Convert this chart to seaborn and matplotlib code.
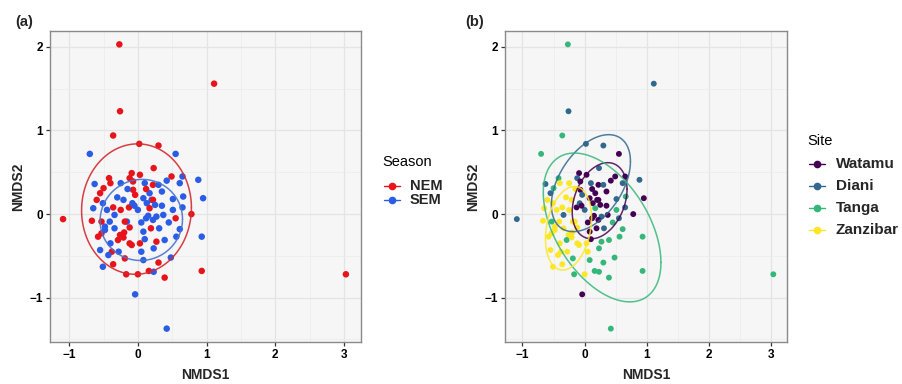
import numpy as np
import pandas as pd
import matplotlib
matplotlib.use("Agg")
import matplotlib.pyplot as plt
from matplotlib.lines import Line2D
import seaborn as sns

# ---------------- data ----------------
nmds1 = [-0.27, 1.11, -0.26, -0.36, 0.02, 0.30, -0.70, 0.55, 0.23, 0.49,
         0.65, 0.88, -0.63, -0.42, -0.40, -0.09, 0.03, -0.12, -0.07, -0.25,
         -0.50, -0.55, -0.60, -0.51, -0.65, -0.21, -0.36, -0.13, -0.08, -0.34,
         -1.09, -0.67, -0.12, -0.41, -0.48, -0.53, -0.16, 0.10, 0.22, 0.61,
         -0.07, -0.04, 0.17, 0.20, 0.08, 0.13, 0.35, 0.22, 0.51, 0.66,
         0.95, 0.00, 0.25, 0.17, 0.51, 0.65, 0.37, 0.27, 0.22, 0.78,
         0.61, 0.19, 0.08, 0.31, -0.20, 0.93, 0.03, 0.27, 0.10, 0.39,
         0.23, 0.56, -0.09, 0.08, 0.48, 0.30, 0.00, 0.16, 0.23, 0.39,
         0.93, -0.04, 0.42, 3.03, -0.53, -0.58, -0.48, -0.34, -0.26, -0.29,
         -0.21, -0.12, -0.55, -0.38, -0.43, -0.51, -0.36, -0.17, -0.19, -0.19,
         -0.28, 0.05, 0.15, 0.35, 0.42, -0.30, -0.45, 0.05, -0.05, 0.12,
         -0.25, 0.45, -0.40, 0.30, -0.15, 0.12, 0.55]
nmds2 = [2.03, 1.56, 1.23, 0.94, 0.84, 0.82, 0.72, 0.72, 0.55, 0.45,
         0.45, 0.41, 0.36, 0.43, 0.37, 0.49, 0.47, 0.43, 0.39, 0.37,
         0.31, 0.25, 0.17, 0.13, 0.07, 0.17, 0.08, 0.08, 0.13, -0.01,
         -0.06, -0.08, -0.16, -0.09, -0.15, -0.09, -0.09, 0.37, 0.35, 0.37,
         0.29, 0.23, 0.25, 0.17, 0.19, 0.13, 0.27, 0.17, 0.18, 0.21,
         0.19, 0.05, 0.11, 0.07, 0.05, 0.08, -0.01, -0.03, -0.07, 0.00,
         -0.18, -0.17, -0.21, -0.17, -0.22, -0.27, -0.35, -0.33, -0.30, -0.31,
         -0.41, -0.27, -0.37, -0.55, -0.52, -0.58, -0.72, -0.68, -0.69, -0.76,
         -0.68, -0.96, -1.37, -0.72, -0.23, -0.27, -0.19, -0.17, -0.25, -0.31,
         -0.28, -0.35, -0.43, -0.45, -0.49, -0.63, -0.60, -0.72, -0.53, -0.09,
         -0.45, -0.10, -0.02, 0.10, 0.40, 0.20, 0.05, -0.45, 0.10, 0.30,
         0.05, -0.10, -0.35, 0.35, 0.30, -0.05, -0.05]
season = list("NNNNNNSSNNSSSNNNNNNSNNNSSSNNSSNNNSSNSSNSNNSSSSSNSSSSSNSSSSSNSNSSNSNNSSSSNSSNNNSNNSSNNNSSNNNNSNSSNNNNSSSSSSSSSNNSSSSSNN")
site_code = ["T", "D", "D", "T", "D", "D", "T", "W", "D", "W",
             "W", "D", "D", "T", "Z", "W", "W", "D", "W", "Z",
             "T", "D", "Z", "Z", "Z", "Z", "Z", "W", "D", "D",
             "D", "Z", "Z", "Z", "Z", "T", "Z", "D", "W", "D",
             "W", "D", "W", "W", "W", "W", "W", "W", "D", "T",
             "W", "D", "W", "T", "T", "D", "W", "D", "W", "W",
             "T", "W", "W", "D", "Z", "T", "Z", "T", "W", "T",
             "T", "T", "Z", "T", "T", "T", "Z", "T", "T", "T",
             "T", "W", "T", "T", "Z", "Z", "Z", "Z", "Z", "T",
             "Z", "Z", "Z", "Z", "Z", "Z", "Z", "T", "T", "Z",
             "Z", "W", "W", "W", "W", "Z", "Z", "Z", "W", "W",
             "Z", "T", "Z", "D", "Z", "W", "D"]

season_levels = ["NEM", "SEM"]
site_levels = ["Watamu", "Diani", "Tanga", "Zanzibar"]
site_names = {"W": "Watamu", "D": "Diani", "T": "Tanga", "Z": "Zanzibar"}
x_ticks = [-1, 0, 1, 2, 3]
y_ticks = [-1, 0, 1, 2]

# 95% ellipses: centre, half-extents, correlation
ell_group = ["NEM", "SEM", "Watamu", "Diani", "Tanga", "Zanzibar"]
ell_cx = [-0.02, 0.05, 0.24, 0.10, 0.28, -0.26]
ell_cy = [0.06, -0.07, 0.16, 0.37, -0.16, -0.17]
ell_hx = [0.80, 0.60, 0.44, 0.635, 0.945, 0.37]
ell_hy = [0.78, 0.485, 0.455, 0.58, 0.89, 0.50]
ell_r = [0.02, 0.02, 0.30, 0.45, -0.47, 0.25]

n = min(len(nmds1), len(nmds2), len(season), len(site_code))
df = pd.DataFrame({
    "NMDS1": nmds1[:n],
    "NMDS2": nmds2[:n],
    "Season": [s + "EM" for s in season[:n]],
    "Site": [site_names[c] for c in site_code[:n]],
})

season_pal = {"NEM": "#E8141B", "SEM": "#2A5CE6"}
site_pal = dict(zip(site_levels, ["#440154", "#31688E", "#35B779", "#FDE725"]))
ell_pal = {"NEM": "#D42A30", "SEM": "#4A73D0", **site_pal}


def ellipse_xy(g, segments=120):
    i = ell_group.index(g)
    hx, hy, r = ell_hx[i], ell_hy[i], ell_r[i]
    M = np.array([[hx * hx, r * hx * hy], [r * hx * hy, hy * hy]])
    L = np.linalg.cholesky(M)
    ang = np.linspace(0, 2 * np.pi, segments + 1)
    circ = np.column_stack([np.cos(ang), np.sin(ang)])
    e = np.array([ell_cx[i], ell_cy[i]]) + circ @ L.T
    return e[:, 0], e[:, 1]


# ---------------- figure ----------------
sns.set_theme(style="white")
plt.rcParams["font.family"] = ["Liberation Sans", "DejaVu Sans"]

fig = plt.figure(figsize=(9.02, 3.84), dpi=100)
axA = fig.add_axes([50 / 902, 42 / 384, 311 / 902, 311 / 384])
axB = fig.add_axes([505 / 902, 42 / 384, 282 / 902, 311 / 384])


def style_axes(ax):
    ax.set_facecolor("#F6F6F6")
    ax.set_xlim(-1.28, 3.25)
    ax.set_ylim(-1.53, 2.19)
    ax.set_xticks(x_ticks)
    ax.set_yticks(y_ticks)
    ax.set_xticks([-0.5, 0.5, 1.5, 2.5], minor=True)
    ax.set_yticks([-1.5, -0.5, 0.5, 1.5], minor=True)
    ax.grid(True, which="major", color="#E4E4E4", lw=0.9)
    ax.grid(True, which="minor", color="#EDEDED", lw=0.6)
    ax.set_axisbelow(True)
    for sp in ax.spines.values():
        sp.set_color("#8A8A8A")
        sp.set_linewidth(1.0)
    ax.tick_params(axis="both", which="major", length=3, width=0.9, color="#333333",
                   labelsize=8.5, labelcolor="black", pad=2, bottom=True, left=True)
    ax.tick_params(axis="both", which="minor", length=0)
    for lab in ax.get_xticklabels() + ax.get_yticklabels():
        lab.set_fontweight("bold")
    ax.set_xlabel("NMDS1", fontsize=10, fontweight="bold", labelpad=5)
    ax.set_ylabel("NMDS2", fontsize=10, fontweight="bold", labelpad=3)


# panel (a)
sns.scatterplot(data=df, x="NMDS1", y="NMDS2", hue="Season", hue_order=season_levels,
                palette=season_pal, s=22, linewidth=0, ax=axA, legend=False, zorder=3)
for lev in season_levels:
    ex, ey = ellipse_xy(lev)
    axA.plot(ex, ey, color=ell_pal[lev], lw=1.1, alpha=0.9, zorder=4)
style_axes(axA)

# panel (b)
sns.scatterplot(data=df, x="NMDS1", y="NMDS2", hue="Site", hue_order=site_levels,
                palette=site_pal, s=18, linewidth=0, ax=axB, legend=False, zorder=3)
for lev in site_levels:
    ex, ey = ellipse_xy(lev)
    axB.plot(ex, ey, color=ell_pal[lev], lw=1.1, alpha=0.85, zorder=4)
style_axes(axB)


# legends (ggplot-style keys: point on a short line)
def px2fig(x, y):
    return x / 902, 1 - y / 384


def draw_legend(title, labels, colors, x_key, x_text, y_title, y_rows, size, tsize):
    tx, ty = px2fig(x_key - 10, y_title)
    fig.text(tx, ty, title, fontsize=tsize, va="center", ha="left", color="black")
    for lab, col, yy in zip(labels, colors, y_rows):
        x0, yf = px2fig(x_key - 8, yy)
        x1, _ = px2fig(x_key + 8, yy)
        xm, _ = px2fig(x_key, yy)
        fig.add_artist(Line2D([x0, x1], [yf, yf], transform=fig.transFigure,
                              color=col, lw=1.0))
        fig.add_artist(Line2D([xm], [yf], transform=fig.transFigure, color=col,
                              marker="o", markersize=4.5, lw=0))
        tx, _ = px2fig(x_text, yy)
        fig.text(tx, yf, lab, fontsize=size, fontweight="bold", va="center", ha="left")


draw_legend("Season", season_levels, [season_pal[l] for l in season_levels],
            392, 410, 162, [186, 199.5], 10.5, 10.5)
draw_legend("Site", site_levels, [site_pal[l] for l in site_levels],
            817, 836, 141, [164, 186, 208, 230], 11, 10.5)

fig.text(15 / 902, 1 - 22 / 384, "(a)", fontsize=10.5, fontweight="bold", va="center")
fig.text(465 / 902, 1 - 22 / 384, "(b)", fontsize=10.5, fontweight="bold", va="center")

fig.savefig("out.png", dpi=100)
